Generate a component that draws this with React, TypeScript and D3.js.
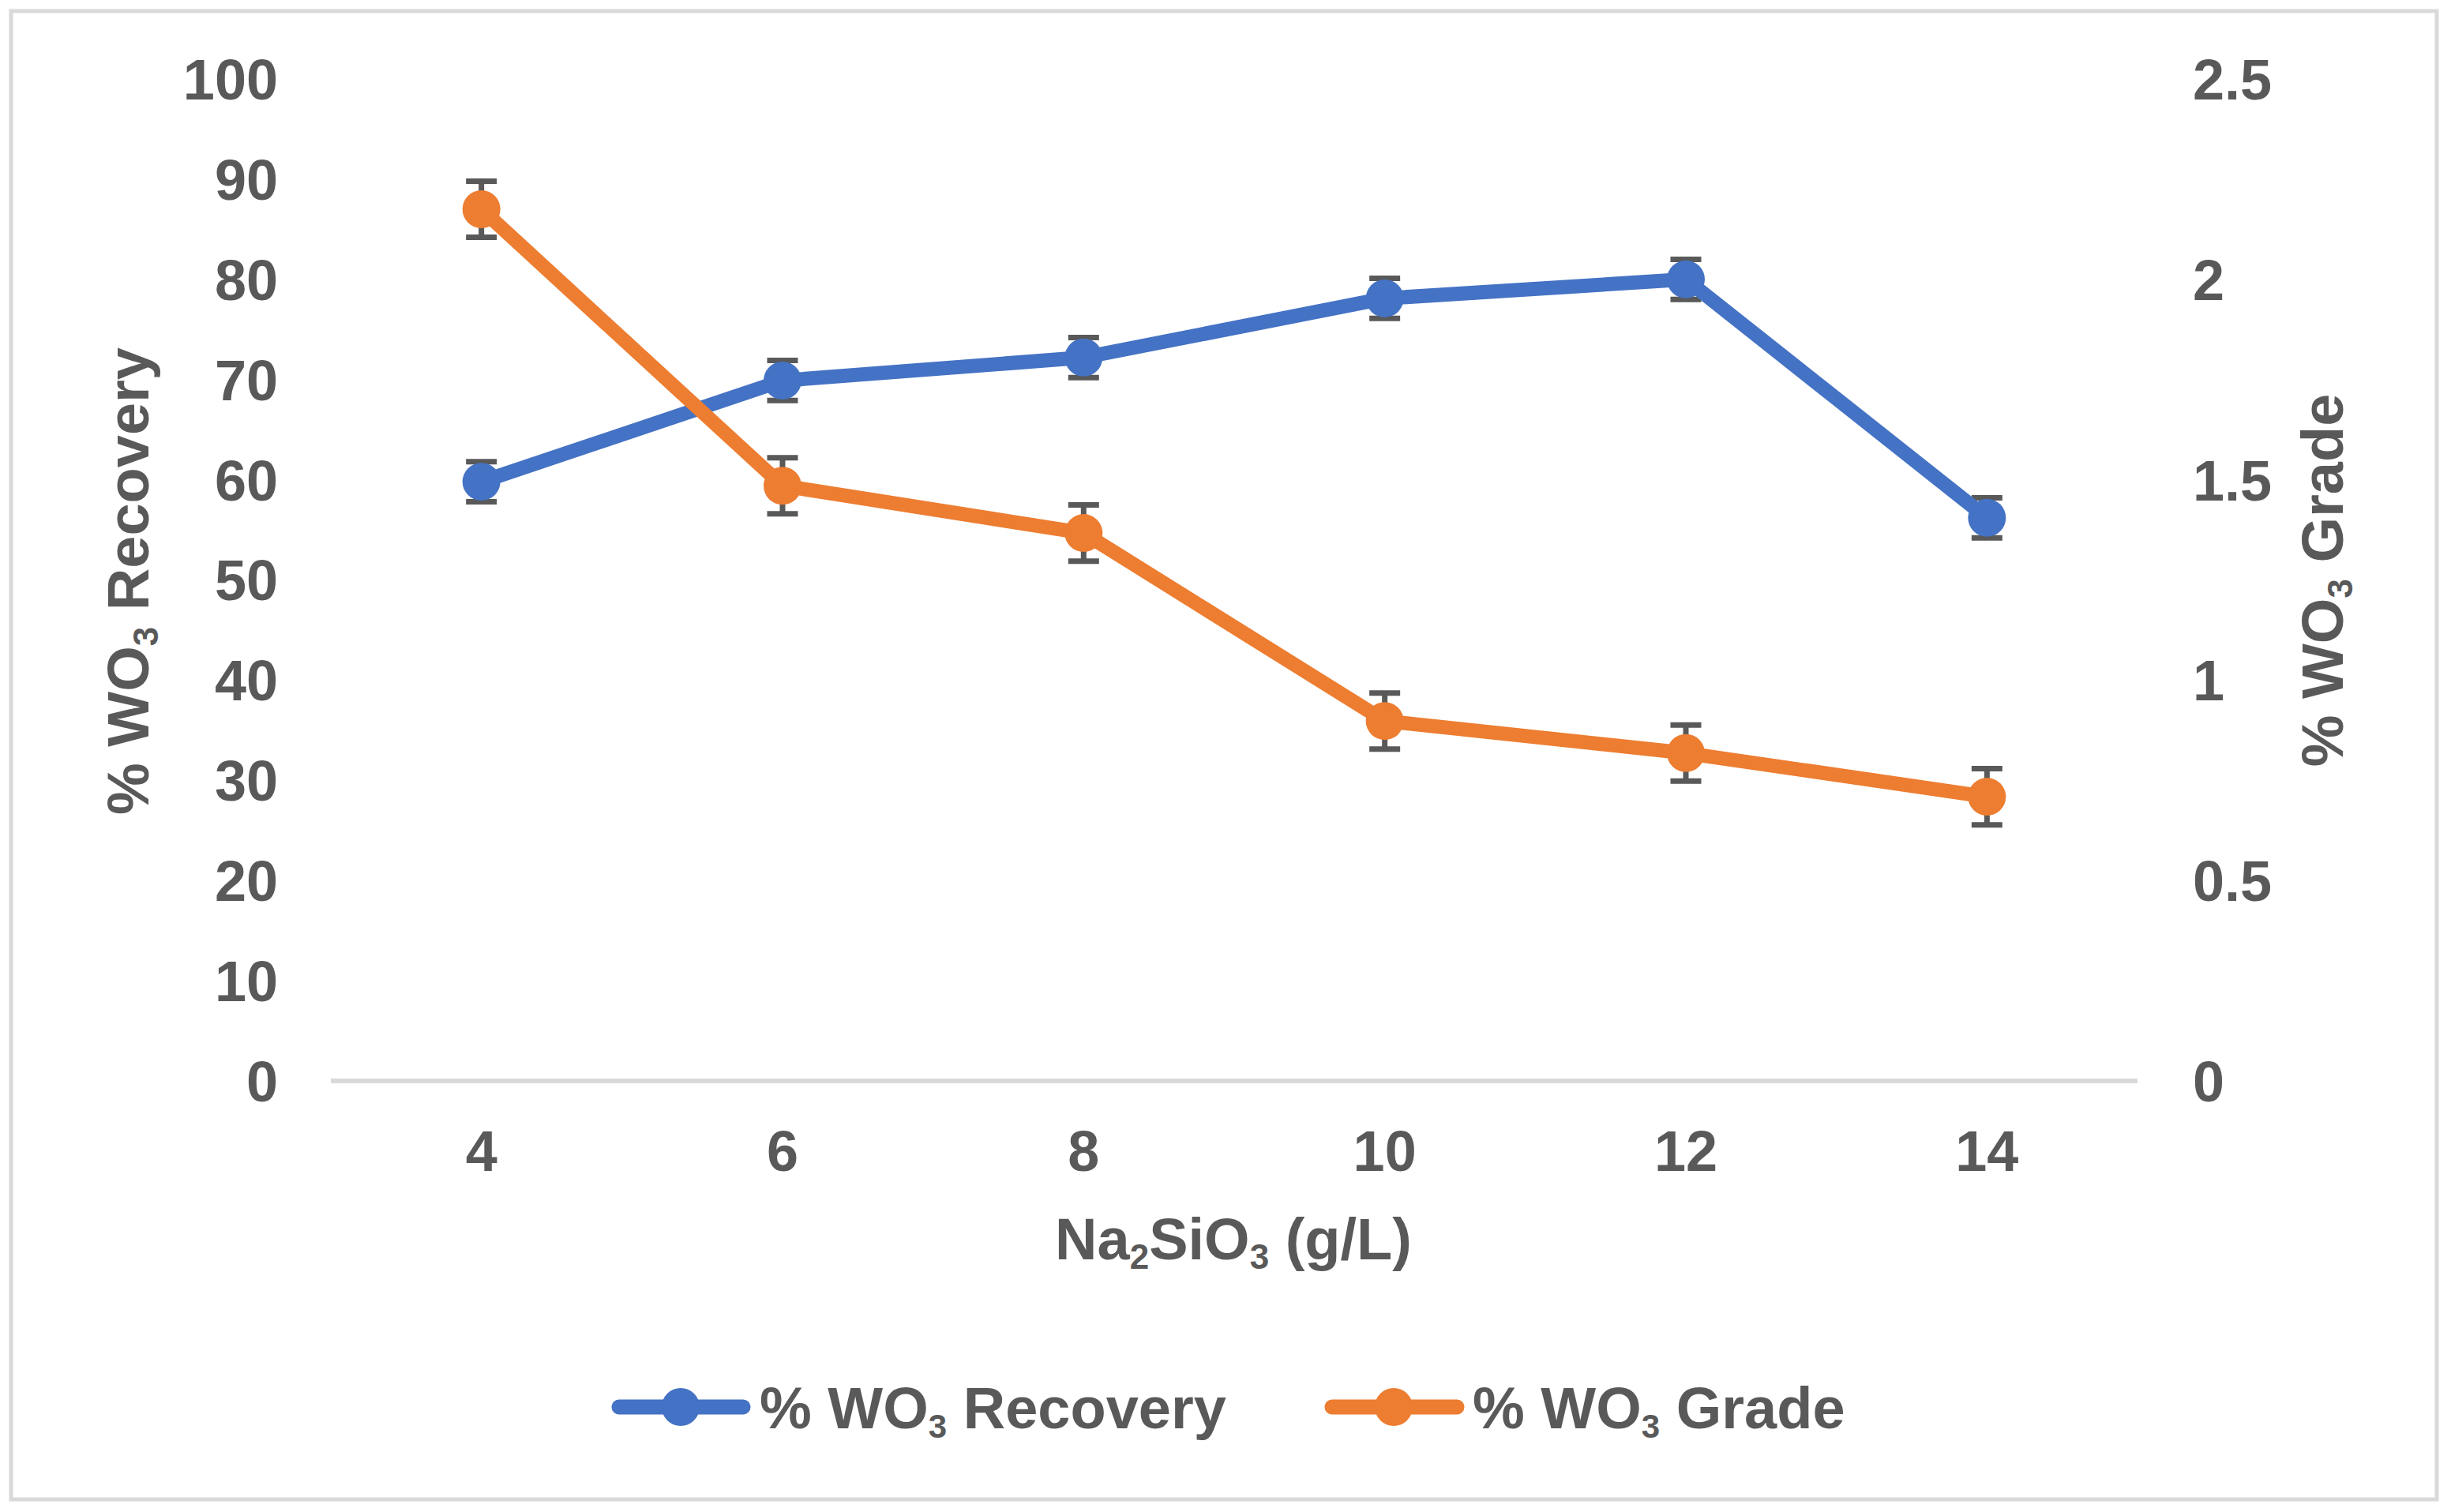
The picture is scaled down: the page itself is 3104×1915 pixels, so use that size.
import * as d3 from 'd3';
import React, { useEffect } from 'react';

// Na2SiO3 dosage (g/L)
const dosage = ['4', '6', '8', '10', '12', '14'];
// % WO3 recovery (left axis) and its error
const recovery = [59.8, 69.9, 72.2, 78.1, 80.0, 56.2];
const recoveryErr = [2, 2, 2, 2, 2, 2];
// % WO3 grade (right axis) and its error
const grade = [2.175, 1.485, 1.367, 0.898, 0.818, 0.709];
const gradeErr = [0.07, 0.07, 0.07, 0.07, 0.07, 0.07];

const leftTicks = [0, 10, 20, 30, 40, 50, 60, 70, 80, 90, 100];
const rightTicks = [0, 0.5, 1, 1.5, 2, 2.5];

const W = 3104;
const H = 1915;
const BLUE = '#4472C4';
const ORANGE = '#ED7D31';
const TEXT = '#595959';
const GRID = '#D9D9D9';
const FONT = '"Liberation Sans", Arial, sans-serif';

function Sub({ main, sub, after, size, subSize }: { main: string; sub: string; after: string; size: number; subSize: number }) {
  return (
    <>
      <tspan>{main}</tspan>
      <tspan fontSize={subSize} dy={12}>{sub}</tspan>
      <tspan fontSize={size} dy={-12}>{after}</tspan>
    </>
  );
}

export default function App() {
  useEffect(() => {
    document.body.style.margin = '0';
  }, []);

  const plot = { left: 419, right: 2707, top: 100, bottom: 1369 };
  const x = d3.scalePoint<string>().domain(dosage).range([plot.left, plot.right]).padding(0.5);
  const yL = d3.scaleLinear().domain([0, 100]).range([plot.bottom, plot.top]);
  const yR = d3.scaleLinear().domain([0, 2.5]).range([plot.bottom, plot.top]);

  const lineL = d3
    .line<number>()
    .x((_, i) => x(dosage[i]) as number)
    .y(d => yL(d));
  const lineR = d3
    .line<number>()
    .x((_, i) => x(dosage[i]) as number)
    .y(d => yR(d));

  const capW = 39;
  const errBars = (vals: number[], errs: number[], y: d3.ScaleLinear<number, number>) =>
    vals.map((v, i) => {
      const cx = x(dosage[i]) as number;
      const y1 = y(v + errs[i]);
      const y0 = y(v - errs[i]);
      return (
        <g key={i} stroke={TEXT} strokeWidth={7}>
          <line x1={cx} x2={cx} y1={y1} y2={y0} />
          <line x1={cx - capW / 2} x2={cx + capW / 2} y1={y1} y2={y1} />
          <line x1={cx - capW / 2} x2={cx + capW / 2} y1={y0} y2={y0} />
        </g>
      );
    });

  const fmt = d3.format('~g');

  return (
    <svg width={W} height={H} style={{ display: 'block', background: '#fff' }} fontFamily={FONT} fontWeight="bold">
      <rect x={0} y={0} width={W} height={H} fill="#fff" />
      <rect x={14} y={14} width={3072} height={1885} fill="none" stroke={GRID} strokeWidth={5} />

      {/* x axis line */}
      <line x1={plot.left} x2={plot.right} y1={yL(0)} y2={yL(0)} stroke={GRID} strokeWidth={6} />

      {/* left ticks */}
      {leftTicks.map(t => (
        <text key={t} x={352} y={yL(t)} dy="0.36em" textAnchor="end" fontSize={72} fill={TEXT}>
          {t}
        </text>
      ))}
      {/* right ticks */}
      {rightTicks.map(t => (
        <text key={t} x={2777} y={yR(t)} dy="0.36em" textAnchor="start" fontSize={72} fill={TEXT}>
          {fmt(t)}
        </text>
      ))}
      {/* x ticks */}
      {dosage.map(d => (
        <text key={d} x={x(d)} y={1483} textAnchor="middle" fontSize={72} fill={TEXT}>
          {d}
        </text>
      ))}

      {/* axis titles */}
      <text x={1562} y={1595} textAnchor="middle" fontSize={74} fill={TEXT}>
        <tspan>Na</tspan>
        <tspan fontSize={44} dy={12}>2</tspan>
        <tspan fontSize={74} dy={-12}>SiO</tspan>
        <tspan fontSize={44} dy={12}>3</tspan>
        <tspan fontSize={74} dy={-12}> (g/L)</tspan>
      </text>
      <text transform="translate(188,736) rotate(-90)" textAnchor="middle" fontSize={74} fill={TEXT}>
        <Sub main="% WO" sub="3" after=" Recovery" size={74} subSize={44} />
      </text>
      <text transform="translate(2967,735) rotate(-90)" textAnchor="middle" fontSize={74} fill={TEXT}>
        <Sub main="% WO" sub="3" after=" Grade" size={74} subSize={44} />
      </text>

      {/* error bars */}
      {errBars(recovery, recoveryErr, yL)}
      {errBars(grade, gradeErr, yR)}

      {/* series */}
      <path d={lineL(recovery) as string} fill="none" stroke={BLUE} strokeWidth={18} strokeLinejoin="round" />
      <path d={lineR(grade) as string} fill="none" stroke={ORANGE} strokeWidth={18} strokeLinejoin="round" />
      {recovery.map((v, i) => (
        <circle key={'b' + i} cx={x(dosage[i])} cy={yL(v)} r={24} fill={BLUE} />
      ))}
      {grade.map((v, i) => (
        <circle key={'o' + i} cx={x(dosage[i])} cy={yR(v)} r={24} fill={ORANGE} />
      ))}

      {/* legend */}
      <g>
        <line x1={784} x2={941} y1={1782} y2={1782} stroke={BLUE} strokeWidth={19} strokeLinecap="round" />
        <circle cx={862} cy={1782} r={24} fill={BLUE} />
        <text x={962} y={1809} fontSize={74} fill={TEXT}>
          <Sub main="% WO" sub="3" after=" Recovery" size={74} subSize={42} />
        </text>
        <line x1={1687} x2={1845} y1={1782} y2={1782} stroke={ORANGE} strokeWidth={19} strokeLinecap="round" />
        <circle cx={1765} cy={1782} r={24} fill={ORANGE} />
        <text x={1865} y={1809} fontSize={74} fill={TEXT}>
          <Sub main="% WO" sub="3" after=" Grade" size={74} subSize={42} />
        </text>
      </g>
    </svg>
  );
}
